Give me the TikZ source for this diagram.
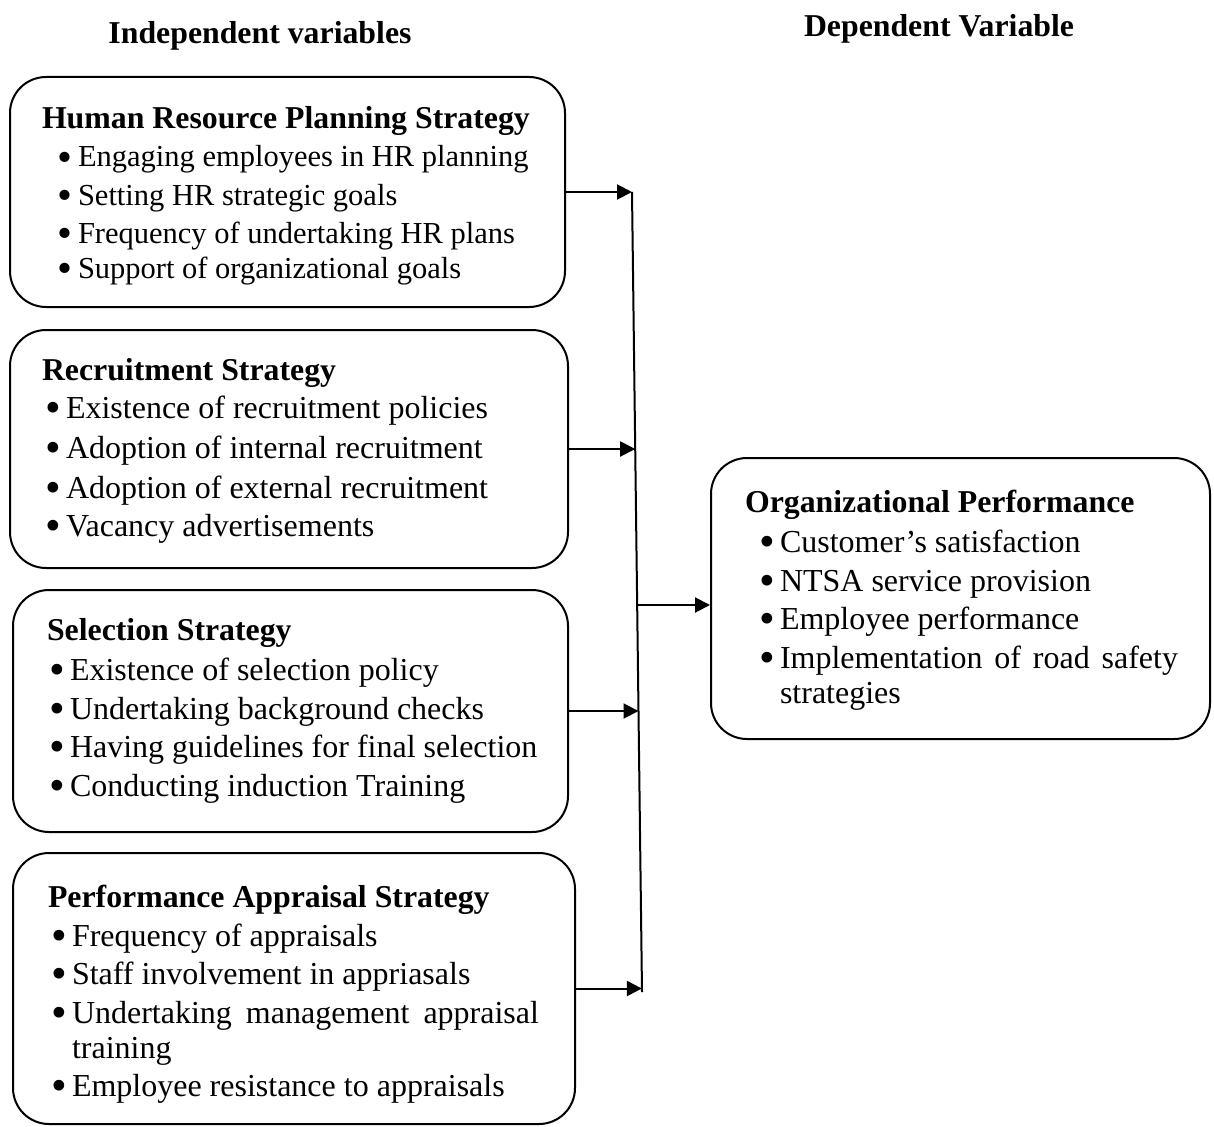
\documentclass[tikz,border=0pt]{standalone}
\usepackage{fontspec}
\setmainfont{Liberation Serif}
\usetikzlibrary{arrows.meta}
\newcommand\bul{\makebox[21pt][l]{\smash{\raisebox{-0.14em}{\scalebox{1.4}{\textbullet}}}}}
\begin{document}
\begin{tikzpicture}[x=1pt,y=-1pt,
  box/.style={draw, line width=2pt, rounded corners=36pt, inner sep=0pt},
  txt/.style={anchor=base west, inner sep=0pt, outer sep=0pt, font=\fontsize{32}{36}\selectfont},
  txtA/.style={txt, font=\fontsize{30.5}{36}\selectfont},
  hd/.style={anchor=base west, inner sep=0pt, outer sep=0pt, font=\fontsize{31.8}{36}\selectfont\bfseries},
  arr/.style={line width=2pt, -{Triangle[length=15pt,width=15pt]}},
  ln/.style={line width=2pt}]
\useasboundingbox (0,0) rectangle (1214,1126);

% column headings
\node[hd, anchor=base] (h1) at (260,44) {Independent variables};
\node[hd, anchor=base] (h2) at (939,37) {Dependent Variable};

% boxes
\node[box, minimum width=555pt, minimum height=230pt] (b1) at (287.5,192) {};
\node[box, minimum width=558pt, minimum height=238pt] (b2) at (289,449) {};
\node[box, minimum width=555pt, minimum height=242pt] (b3) at (290.5,711) {};
\node[box, minimum width=562pt, minimum height=271pt] (b4) at (294,988.5) {};
\node[box, minimum width=499pt, minimum height=281pt] (b5) at (960.5,598.5) {};

% box 1
\node[hd]   (t10) at (42,129) {Human Resource Planning Strategy};
\node[txtA] (t11) at (57,167) {\bul Engaging employees in HR planning};
\node[txtA] (t12) at (57,205) {\bul Setting HR strategic goals};
\node[txtA] (t13) at (57,243) {\bul Frequency of undertaking HR plans};
\node[txtA] (t14) at (57,278) {\bul Support of organizational goals};

% box 2
\node[hd]  (t20) at (42,380) {Recruitment Strategy};
\node[txt] (t21) at (45,418) {\bul Existence of recruitment policies};
\node[txt] (t22) at (45,458) {\bul Adoption of internal recruitment};
\node[txt] (t23) at (45,498) {\bul Adoption of external recruitment};
\node[txt] (t24) at (45,536) {\bul Vacancy advertisements};

% box 3
\node[hd]  (t30) at (47,640) {Selection Strategy};
\node[txt] (t31) at (49,680) {\bul Existence of selection policy};
\node[txt] (t32) at (49,719) {\bul Undertaking background checks};
\node[txt] (t33) at (49,757) {\bul Having guidelines for final selection};
\node[txt] (t34) at (49,796) {\bul Conducting induction Training};

% box 4
\node[hd]  (t40) at (48,907) {Performance Appraisal Strategy};
\node[txt] (t41) at (51,946) {\bul Frequency of appraisals};
\node[txt] (t42) at (51,984) {\bul Staff involvement in appriasals};
\node[txt] (t43) at (51,1023) {\bul\makebox[467pt][s]{Undertaking management appraisal}};
\node[txt] (t44) at (72,1058) {training};
\node[txt] (t45) at (51,1096) {\bul Employee resistance to appraisals};

% box 5
\node[hd]  (t50) at (745,512) {Organizational Performance};
\node[txt] (t51) at (759,552) {\bul Customer's satisfaction};
\node[txt] (t52) at (759,591) {\bul NTSA service provision};
\node[txt] (t53) at (759,629) {\bul Employee performance};
\node[txt] (t54) at (759,668) {\bul\makebox[398pt][s]{Implementation of road safety}};
\node[txt] (t55) at (780,703) {strategies};

% collector line
\coordinate (jt) at (632,192);
\coordinate (jb) at (642,992);
\coordinate (j2) at (635.2,449);
\coordinate (j3) at (638.5,711);
\coordinate (j4) at (641.9,988.5);
\coordinate (jm) at (637.2,605);
\draw[ln] (jt) -- (jb);

\draw[arr] (b1.east) -- (jt);
\draw[arr] (b2.east) -- (j2);
\draw[arr] (b3.east) -- (j3);
\draw[arr] (b4.east) -- (j4);
\draw[arr] (jm) -- (b5.west |- jm);
\end{tikzpicture}
\end{document}
